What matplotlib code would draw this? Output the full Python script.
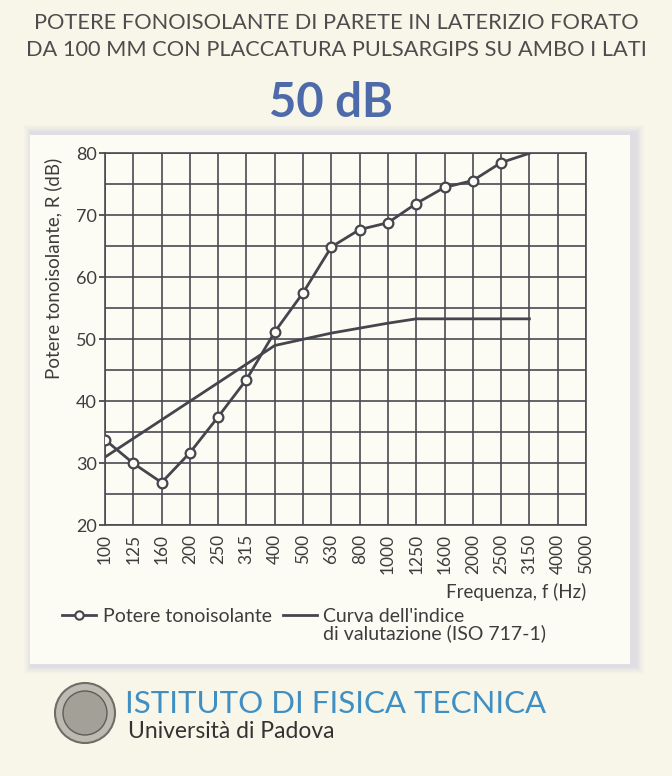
import matplotlib
matplotlib.use("Agg")
import matplotlib.pyplot as plt
from matplotlib.patches import Rectangle, Circle
from matplotlib.lines import Line2D

# third-octave bands shown on the x axis
freq_labels = ["100", "125", "160", "200", "250", "315", "400", "500", "630",
               "800", "1000", "1250", "1600", "2000", "2500", "3150", "4000", "5000"]

# measured sound reduction index R (dB), 100 .. 3150 Hz
potere = [33.8, 30.0, 26.9, 31.7, 37.5, 43.5, 51.2, 57.5, 64.9,
          67.7, 68.8, 71.9, 74.5, 75.6, 78.5, 80.0]

# shifted ISO 717-1 reference curve, 100 .. 3150 Hz
riferimento = [31.0, 34.0, 37.0, 40.0, 43.0, 46.0, 49.0, 50.0, 51.0,
               51.8, 52.6, 53.3, 53.3, 53.3, 53.3, 53.3]

plt.rcParams['font.family'] = ['Lato', 'DejaVu Sans']

W, H = 672, 776
fig = plt.figure(figsize=(W / 100, H / 100), dpi=100)
fig.patch.set_facecolor('#f8f5e9')

def fx(px):
    return px / W

def fy(py):
    return 1 - py / H

txt_c = '#3d3d3d'
line_c = '#45454d'

# panel with a soft bluish shadow
for i, a in enumerate([0.04, 0.06, 0.08, 0.11]):
    off = 10 - 2 * i
    fig.patches.append(Rectangle((fx(30 - off + 4), fy(664 + off)),
                                 fx(600 + 2 * off), (664 - 135 + 2 * off) / H,
                                 transform=fig.transFigure, facecolor='#9aa0d8',
                                 edgecolor='none', alpha=a, zorder=0))
fig.patches.append(Rectangle((fx(30), fy(664)), fx(600), (664 - 135) / H,
                             transform=fig.transFigure, facecolor='#fdfcf4',
                             edgecolor='none', zorder=1))

# titles
fig.text(fx(336), fy(23), "POTERE FONOISOLANTE DI PARETE IN LATERIZIO FORATO",
         ha='center', va='center', fontsize=15.7, color='#4d4d4d')
fig.text(fx(336), fy(50), "DA 100 MM CON PLACCATURA PULSARGIPS SU AMBO I LATI",
         ha='center', va='center', fontsize=15.7, color='#4d4d4d')
fig.text(fx(331), fy(103), "50 dB", ha='center', va='center', fontsize=34,
         fontweight='bold', color='#4d6bab')

# chart
ax = fig.add_axes([fx(105), fy(525.3), fx(586 - 105), (525.3 - 153.3) / H])
ax.set_facecolor('none')
ax.set_zorder(3)
x = list(range(len(potere)))
grid_c = '#4a4a52'

ax.plot(x, riferimento, color=line_c, lw=2.0, zorder=3)
ax.plot(x, potere, color=line_c, lw=2.0, marker='o', markersize=7,
        markerfacecolor='#fdfcf4', markeredgecolor=line_c, markeredgewidth=1.6,
        markevery=list(range(len(potere) - 1)), zorder=4)

ax.set_xlim(0, len(freq_labels) - 1)
ax.set_ylim(20, 80)
ax.set_xticks(range(len(freq_labels)))
ax.set_xticklabels(freq_labels, rotation=90, fontsize=12.5, color=txt_c)
ax.set_yticks(range(20, 81, 10))
ax.set_yticks(range(25, 80, 10), minor=True)
ax.tick_params(axis='y', which='major', labelsize=13, colors=txt_c, length=4,
               width=1.2, pad=2)
ax.tick_params(axis='y', which='minor', length=0)
ax.tick_params(axis='x', length=0, pad=6, labelcolor=txt_c)
ax.grid(True, which='both', color=grid_c, lw=1.2)
for s in ax.spines.values():
    s.set_color(grid_c)
    s.set_linewidth(1.2)

ax.set_ylabel("Potere tonoisolante, R (dB)", fontsize=13.5, color=txt_c)
ax.yaxis.set_label_coords(fx(62 - 105) / fx(586 - 105), 0.69)
fig.text(fx(586), fy(592), "Frequenza, f (Hz)", ha='right', va='center',
         fontsize=13.5, color=txt_c)

# legend: handles on the first text line
handles = [Line2D([], [], color=line_c, lw=2, marker='o', markersize=6,
                  markerfacecolor='#fdfcf4', markeredgewidth=1.5),
           Line2D([], [], color=line_c, lw=2)]
leg = fig.legend(handles, ["Potere tonoisolante", "Curva dell'indice"],
                 loc='upper left', bbox_to_anchor=(fx(62), fy(608)), ncol=2,
                 frameon=False, fontsize=14, handlelength=1.75, borderpad=0,
                 borderaxespad=0, handletextpad=0.35, columnspacing=0.55)
for t in leg.get_texts():
    t.set_color(txt_c)
fig.canvas.draw()
t2 = leg.get_texts()[1].get_window_extent()
fig.text(t2.x0 / W, fy(633), "di valutazione (ISO 717-1)", ha='left',
         va='center', fontsize=14, color=txt_c)

# logo
cx, cy = 0.85, (H - 713) / 100
fig.patches.append(Circle((cx, cy), 0.30, transform=fig.dpi_scale_trans,
                          facecolor='#bdbab2', edgecolor='#6f6d68', lw=1.5, zorder=2))
fig.patches.append(Circle((cx, cy), 0.22, transform=fig.dpi_scale_trans,
                          facecolor='#a3a098', edgecolor='#5f5d58', lw=1.0, zorder=2))
fig.text(fx(125), fy(704), "ISTITUTO DI FISICA TECNICA", ha='left', va='center',
         fontsize=22.5, color='#3f8fc2')
fig.text(fx(128), fy(731), "Università di Padova", ha='left', va='center',
         fontsize=16.5, color='#333333')

fig.savefig("out.png", dpi=100, facecolor=fig.get_facecolor())
